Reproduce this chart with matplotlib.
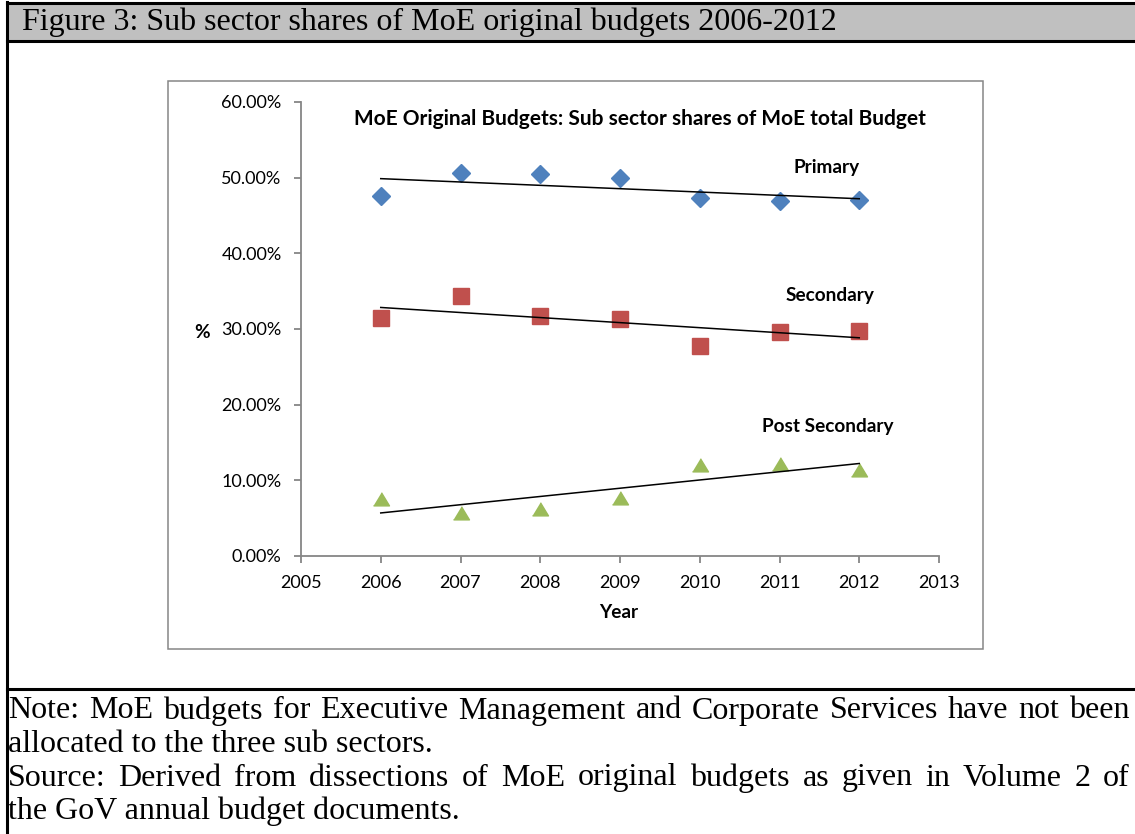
import matplotlib
matplotlib.use("Agg")
import matplotlib.pyplot as plt
import numpy as np
from matplotlib.patches import Rectangle
from matplotlib.lines import Line2D
from matplotlib.ticker import FuncFormatter

W, H = 1135, 834

years = [2006, 2007, 2008, 2009, 2010, 2011, 2012]
primary = [0.476, 0.506, 0.505, 0.499, 0.473, 0.469, 0.470]
secondary = [0.315, 0.343, 0.317, 0.313, 0.278, 0.296, 0.297]
post_secondary = [0.075, 0.057, 0.062, 0.077, 0.120, 0.122, 0.114]

series_names = ["Primary", "Secondary", "Post Secondary"]
header = "Figure 3: Sub sector shares of MoE original budgets 2006-2012"
chart_title = "MoE Original Budgets: Sub sector shares of MoE total Budget"
note_lines = [
    ("Note: MoE budgets for Executive Management and Corporate Services have not been", True),
    ("allocated to the three sub sectors.", False),
    ("Source: Derived from dissections of MoE original budgets as given in Volume 2 of", True),
    ("the GoV annual budget documents.", False),
]


def fx(px):
    return px / W


def fy(py):
    return 1 - py / H


fig = plt.figure(figsize=(W / 100, H / 100), dpi=100)
fig.patch.set_facecolor("white")

# header band and page rules
fig.add_artist(Rectangle((fx(7), fy(41)), fx(W) - fx(7), fy(3) - fy(41),
                         transform=fig.transFigure, facecolor="#c0c0c0",
                         edgecolor="none", zorder=-2))
for (x0, y0, x1, y1) in [(7, 3, W, 3), (7, 41, W, 41), (7, 689, W, 689), (7, 2, 7, H)]:
    fig.add_artist(Line2D([fx(x0), fx(x1)], [fy(y0), fy(y1)], transform=fig.transFigure,
                          color="black", lw=2.2))
fig.text(fx(22), fy(22), header, family="Liberation Serif", fontsize=23,
         ha="left", va="center")

# chart area frame
fig.add_artist(Rectangle((fx(168), fy(649)), fx(983) - fx(168), fy(81) - fy(649),
                         transform=fig.transFigure, facecolor="white",
                         edgecolor="#868686", lw=1.1, zorder=-1))

ax = fig.add_axes([fx(301), fy(556), fx(939) - fx(301), fy(102) - fy(556)])
ax.set_facecolor("none")
ax.set_xlim(2005, 2013)
ax.set_ylim(0, 0.6)
ax.set_xticks(range(2005, 2014))
ax.set_yticks(np.arange(0, 0.61, 0.1))
ax.yaxis.set_major_formatter(FuncFormatter(lambda v, p: f"{v * 100:.2f}%"))
for s in ["top", "right"]:
    ax.spines[s].set_visible(False)
for s in ["left", "bottom"]:
    ax.spines[s].set_color("#868686")
    ax.spines[s].set_linewidth(1.3)
ax.tick_params(colors="#868686", length=5, width=1.3, labelcolor="black",
               labelsize=13)
ax.tick_params(axis="y", pad=9)
ax.tick_params(axis="x", pad=9)
for lab in ax.get_xticklabels() + ax.get_yticklabels():
    lab.set_family("Lato")

tri = [(-1, -0.8), (1, -0.8), (0, 0.85)]
styles = [
    (primary, "D", "#4f81bd", 9),
    (secondary, "s", "#c0504d", 11),
    (post_secondary, tri, "#9bbb59", 11.5),
]
for vals, mk, col, ms in styles:
    ax.plot(years, vals, ls="none", marker=mk, color=col, ms=ms, mec=col, zorder=3,
            clip_on=False)
    k, b = np.polyfit(years, vals, 1)
    xs = np.array([years[0], years[-1]])
    ax.plot(xs, k * xs + b, color="black", lw=1.1, zorder=4)

bold = dict(family="Lato", fontweight="bold", fontsize=13.7, ha="center", va="center")
fig.text(fx(640), fy(119), chart_title, **dict(bold, fontsize=15))
for name, (px, py) in zip(series_names, [(827, 167), (830, 296), (828, 426)]):
    fig.text(fx(px), fy(py), name, **bold)
fig.text(fx(202), fy(332), "%", **bold)
fig.text(fx(619), fy(612), "Year", **bold)

# justified note block
renderer = fig.canvas.get_renderer()
left, right = 8, 1130
note_font = dict(family="Liberation Serif", fontsize=23, va="center", ha="left")
for i, (line, justify) in enumerate(note_lines):
    y = fy(711 + i * 33.5)
    if not justify:
        fig.text(fx(left), y, line, **note_font)
        continue
    words = line.split(" ")
    arts = [fig.text(0, y, w, **note_font) for w in words]
    widths = [a.get_window_extent(renderer).width for a in arts]
    gap = (right - left - sum(widths)) / (len(words) - 1)
    x = left
    for a, w in zip(arts, widths):
        a.set_x(fx(x))
        x += w + gap

fig.savefig("out.png", dpi=100)
